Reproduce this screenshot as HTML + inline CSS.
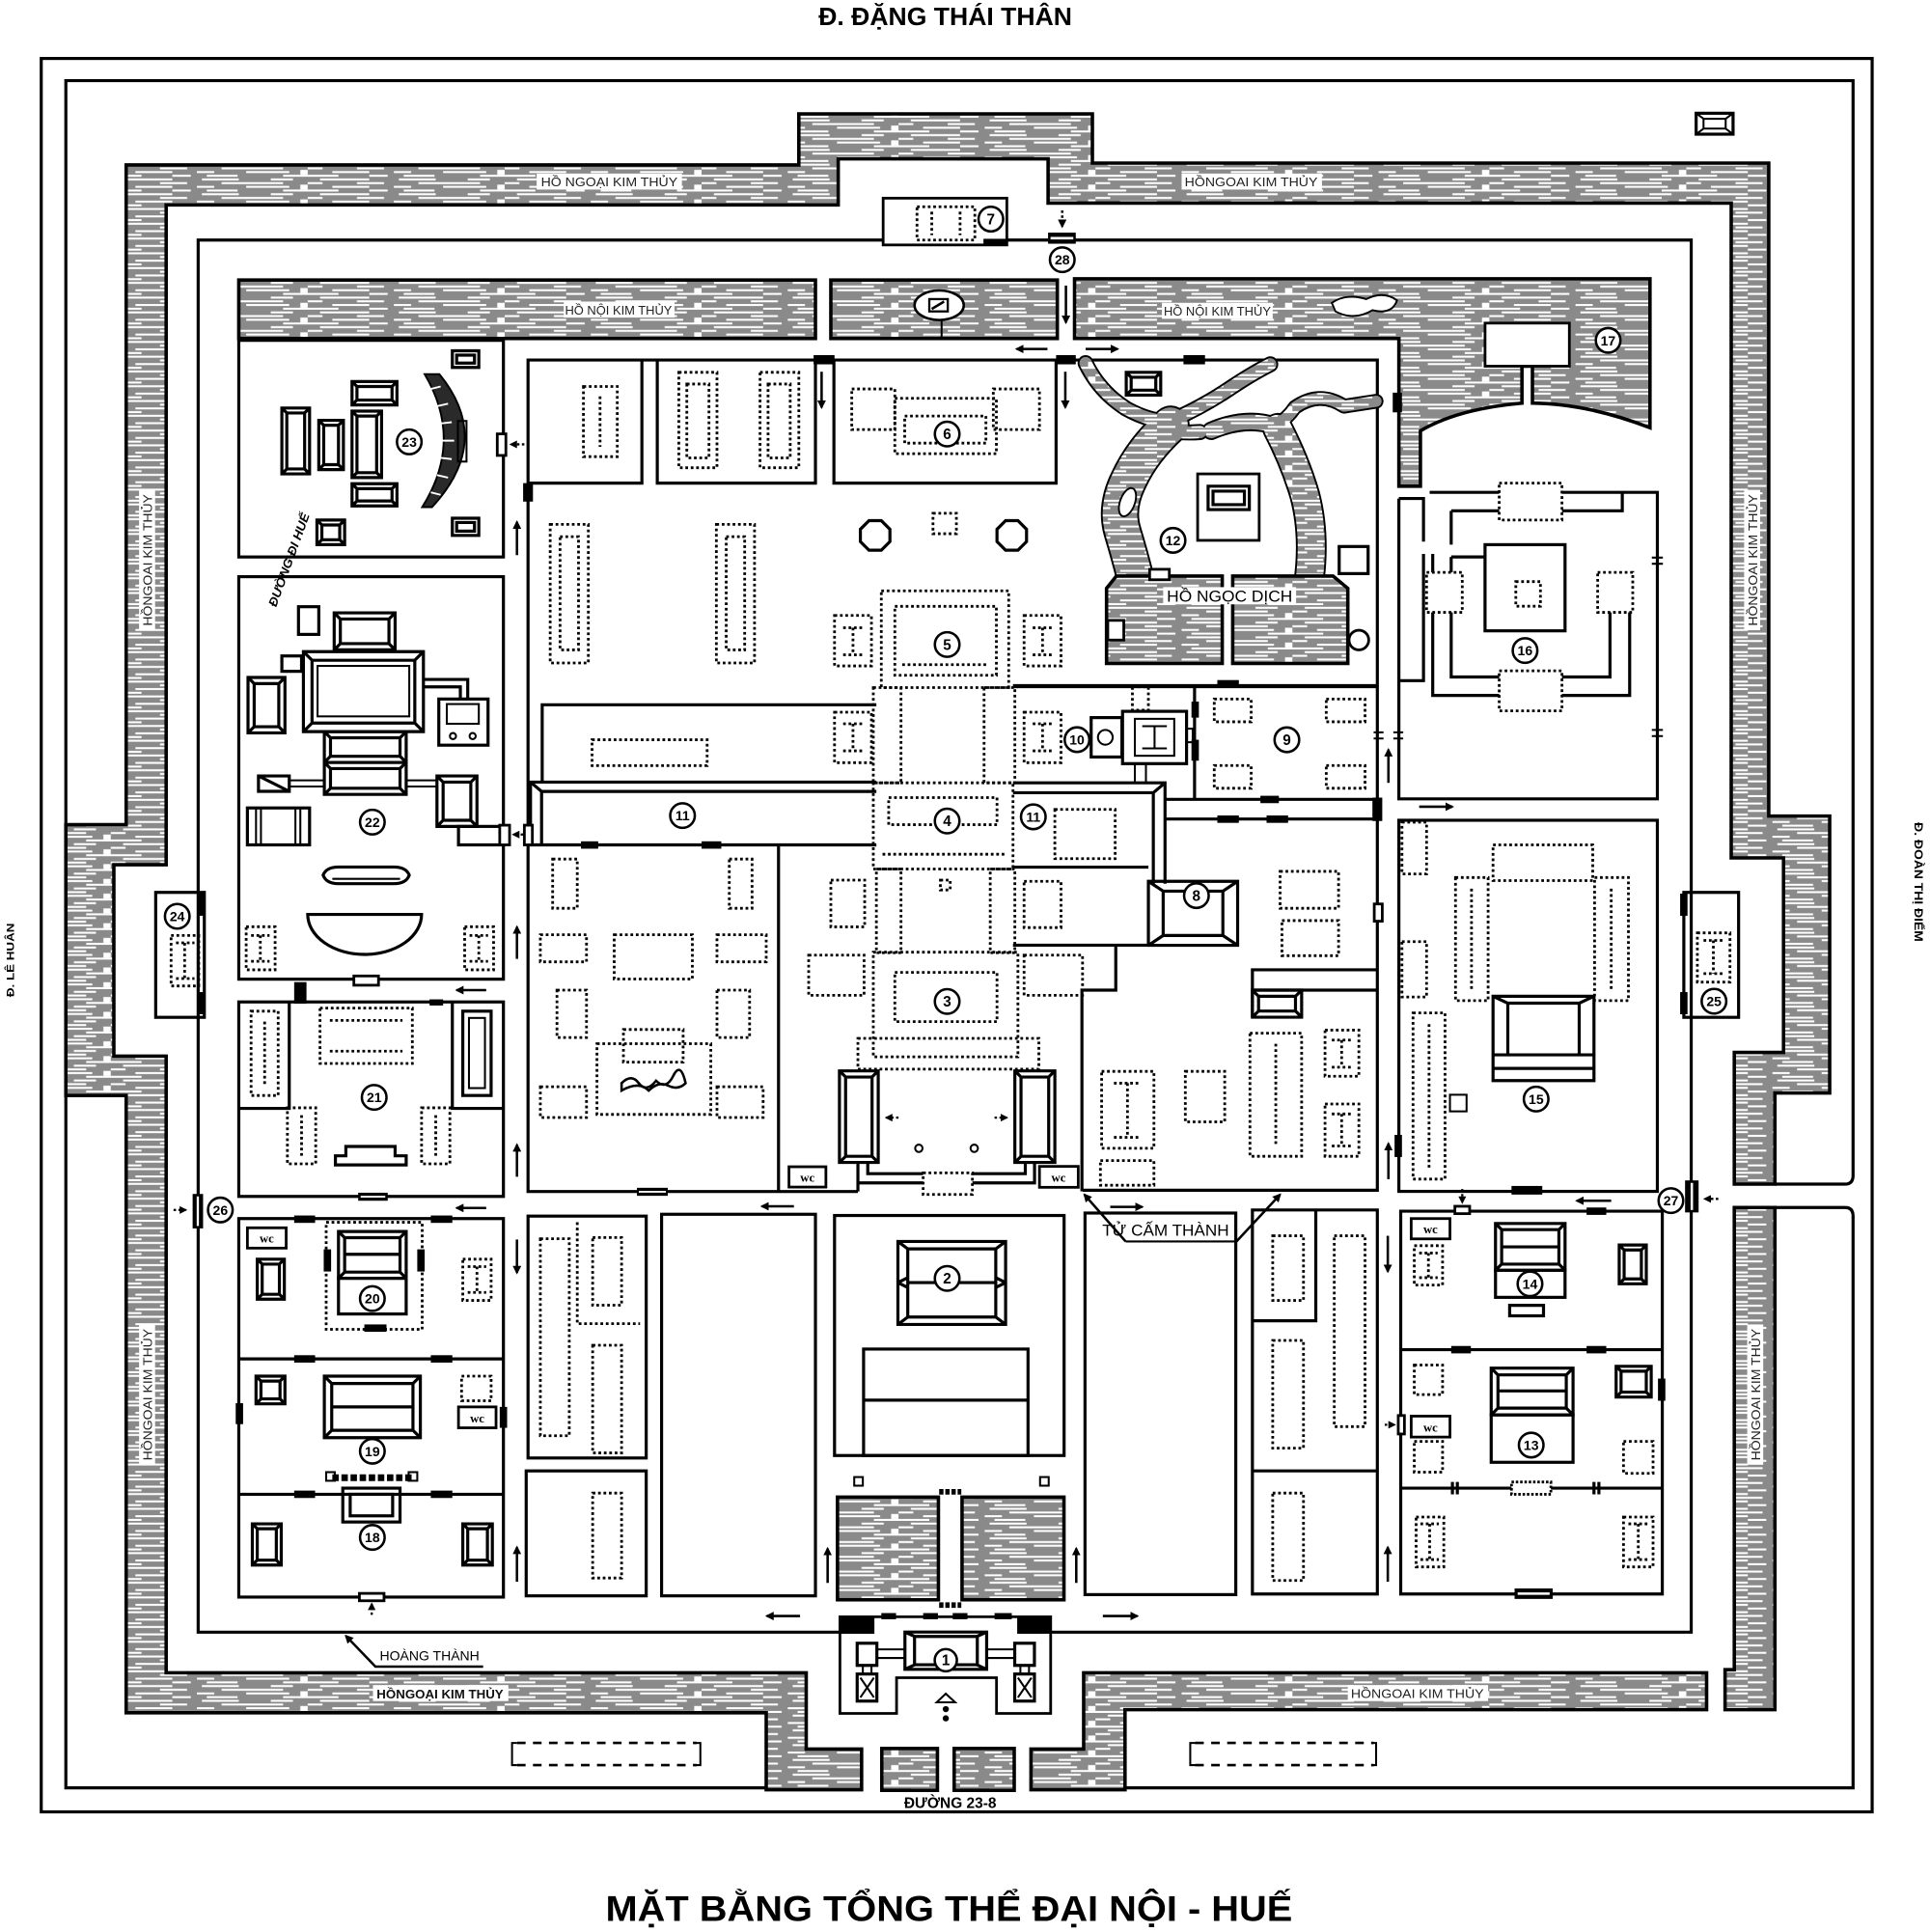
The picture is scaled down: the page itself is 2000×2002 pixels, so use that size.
<!DOCTYPE html>
<html><head><meta charset="utf-8"><style>
html,body{margin:0;padding:0;background:#fff}
svg{display:block}
.s{fill:none;stroke:#000;stroke-width:2.5}
.s2{fill:none;stroke:#000;stroke-width:1.6}
.d{fill:none;stroke:#000;stroke-width:2.2;stroke-dasharray:2.2 2.2}
.ww{fill:#fff;stroke:#000;stroke-width:2.2}
.wt{fill:url(#wt);stroke:#000;stroke-width:2.8}
.a{fill:none;stroke:#000;stroke-width:2;marker-end:url(#ah)}
.c{fill:#fff;stroke:#000;stroke-width:2}
.n{font-family:"Liberation Sans",sans-serif;font-weight:bold;font-size:12px;text-anchor:middle}
.n2{font-family:"Liberation Sans",sans-serif;font-weight:bold;font-size:11px;text-anchor:middle}
.l{font-family:"Liberation Sans",sans-serif;font-size:10px;fill:#222;text-anchor:middle}
.wc{font-family:"Liberation Serif",serif;font-weight:bold;font-size:10px;text-anchor:middle}
</style></head><body>
<svg xmlns="http://www.w3.org/2000/svg" width="2000" height="2002" viewBox="0 0 1568 1569.6" preserveAspectRatio="none">
<defs>
<pattern id="wt" width="160" height="12" patternUnits="userSpaceOnUse">
<rect width="160" height="12" fill="#8a8a8a"/>
<g fill="#fff">
<rect x="4" y="1" width="30" height="1.6"/><rect x="60" y="1" width="18" height="1.6"/><rect x="100" y="1" width="40" height="1.6"/>
<rect x="20" y="4" width="50" height="1.6"/><rect x="90" y="4" width="12" height="1.6"/><rect x="130" y="4" width="22" height="1.6"/>
<rect x="0" y="7" width="14" height="1.6"/><rect x="40" y="7" width="35" height="1.6"/><rect x="110" y="7" width="30" height="1.6"/>
<rect x="8" y="10" width="25" height="1.6"/><rect x="70" y="10" width="45" height="1.6"/><rect x="140" y="10" width="15" height="1.6"/>
<rect x="84" y="6" width="6" height="4"/>
</g>
</pattern>
<marker id="ah" viewBox="0 0 10 10" refX="8" refY="5" markerWidth="3.5" markerHeight="3.5" orient="auto-start-reverse"><path d="M0 0L10 5L0 10z" fill="#000"/></marker>
</defs>
<rect width="1568" height="1570" fill="#fff"/>

<!-- street names -->
<text x="768" y="20.5" font-family="Liberation Sans, sans-serif" font-weight="bold" font-size="20" text-anchor="middle" textLength="206" lengthAdjust="spacingAndGlyphs">Đ. ĐẶNG THÁI THÂN</text>
<text transform="translate(11.5 780) rotate(-90)" font-family="Liberation Sans, sans-serif" font-weight="bold" font-size="9" text-anchor="middle" textLength="60" lengthAdjust="spacingAndGlyphs">Đ. LÊ HUÂN</text>
<text transform="translate(1555.5 716.6) rotate(90)" font-family="Liberation Sans, sans-serif" font-weight="bold" font-size="9.5" text-anchor="middle" textLength="97" lengthAdjust="spacingAndGlyphs">Đ. ĐOÀN THỊ ĐIỂM</text>
<text x="772" y="1469" font-family="Liberation Sans, sans-serif" font-weight="bold" font-size="12" text-anchor="middle" textLength="75" lengthAdjust="spacingAndGlyphs">ĐƯỜNG  23-8</text>
<text x="771" y="1560.5" font-family="Liberation Sans, sans-serif" font-weight="bold" font-size="29" text-anchor="middle" textLength="558" lengthAdjust="spacingAndGlyphs">MẶT BẰNG TỔNG THỂ ĐẠI NỘI - HUẾ</text>

<!-- frames -->
<rect class="s" x="33.5" y="47.5" width="1487.5" height="1424.5"/>
<path class="s" d="M622.5 1452.5H53.5V65.5H1505.5V955Q1505.5 962 1499 962H1442M1442 981H1499Q1505.5 981 1505.5 988V1452.5H914"/>

<!-- outer moat -->
<path class="wt" stroke-width="3" d="M102.5 1391.5V890H53.5V670H102.5V134H649V92.5H887.5V132.5H1437V663H1486.5V888H1442V962H1409V855H1449V697H1406.5V165H851.5V129H681V166.5H135V702.5H92.5V858H135V1359H655V1421H700V1454H622.5V1391.5Z"/>
<path class="wt" stroke-width="3" d="M1409 981H1442V1389H1401.5V1356.5H1409Z"/>
<path class="wt" stroke-width="3" d="M1386.5 1359V1389H914V1454H837.6V1421H880.4V1359Z"/>
<rect class="wt" stroke-width="3" x="716.4" y="1420.5" width="45.2" height="34"/>
<rect class="wt" stroke-width="3" x="775.2" y="1420.5" width="48.8" height="34"/>

<rect x="436" y="141" width="118" height="13" fill="#fff"/><text class="l" x="495" y="151.5" textLength="111" lengthAdjust="spacingAndGlyphs">HỒ NGOẠI KIM THỦY</text>
<rect x="960" y="141" width="114" height="13" fill="#fff"/><text class="l" x="1016.5" y="151.5" textLength="108" lengthAdjust="spacingAndGlyphs">HỒNGOAI KIM THỦY</text>
<g transform="translate(120 455) rotate(-90)"><rect x="-57" y="-7" width="114" height="13" fill="#fff"/><text class="l" x="0" y="3.5" textLength="107" lengthAdjust="spacingAndGlyphs">HỒNGOAI KIM THỦY</text></g>
<g transform="translate(1424 455) rotate(-90)"><rect x="-57" y="-7" width="114" height="13" fill="#fff"/><text class="l" x="0" y="3.5" textLength="107" lengthAdjust="spacingAndGlyphs">HỒNGOAI KIM THỦY</text></g>
<g transform="translate(120 1133) rotate(-90)"><rect x="-57" y="-7" width="114" height="13" fill="#fff"/><text class="l" x="0" y="3.5" textLength="107" lengthAdjust="spacingAndGlyphs">HỒNGOAI KIM THỦY</text></g>
<g transform="translate(1426.5 1133) rotate(-90)"><rect x="-57" y="-7" width="114" height="13" fill="#fff"/><text class="l" x="0" y="3.5" textLength="107" lengthAdjust="spacingAndGlyphs">HỒNGOAI KIM THỦY</text></g>
<rect x="303" y="1369" width="110" height="13" fill="#fff"/><text x="357.5" y="1380" font-family="Liberation Sans, sans-serif" font-weight="bold" font-size="10" text-anchor="middle" fill="#111" textLength="103" lengthAdjust="spacingAndGlyphs">HỒNGOẠI KIM THỦY</text>
<rect x="1095" y="1369" width="114" height="13" fill="#fff"/><text class="l" x="1151.5" y="1379.5" textLength="108" lengthAdjust="spacingAndGlyphs">HỒNGOAI KIM THỦY</text>

<!-- top right icon -->
<rect class="s" x="1378" y="92" width="30" height="17"/>
<path class="s2" d="M1384 96.5h18v8h-18z M1378 92l6 4.5M1408 92l-6 4.5M1378 109l6-4.5M1408 109l-6-4.5"/>

<!-- Hoang Thanh wall -->
<path class="s" d="M717.5 195H161V1326H682.4M818 195H1374V1326H853.6"/>

<!-- building 7 -->
<rect class="ww" x="717.5" y="161" width="100.5" height="38"/>
<rect class="d" x="745" y="168" width="47" height="27"/>
<path class="d" d="M757 172v19M780 172v19"/>
<rect x="799" y="194" width="19" height="5" fill="#000"/>
<!-- gate 28 -->
<rect x="851.5" y="189" width="22.5" height="9" fill="#000"/>
<line x1="853.5" y1="193.5" x2="872" y2="193.5" stroke="#fff" stroke-width="2"/>
<path d="M863 171V184" stroke="#000" stroke-width="2" stroke-dasharray="2 2" marker-end="url(#ah)"/>

<!-- inner moat -->
<rect class="wt" x="194" y="227.5" width="468.5" height="47.5"/>
<rect class="wt" x="675" y="227.5" width="184" height="47.5"/>
<path class="wt" d="M873 226.5H1340.5V347.5Q1290 328 1245 327.5V297.5H1236.5V327.5Q1185 332 1154 350V395H1136.5V275H873Z"/>
<rect class="ww" stroke-width="2.5" x="1206.5" y="262.5" width="68.5" height="35"/>
<path d="M1082 246Q1094 238 1110 243Q1124 236 1135 244Q1131 256 1115 252Q1100 261 1085 253Z" fill="#fff" stroke="#000" stroke-width="1.5"/>
<rect x="458" y="245" width="90" height="13" fill="#fff"/><text class="l" x="502.5" y="255.5" textLength="87" lengthAdjust="spacingAndGlyphs">HỒ NỘI KIM THỦY</text>
<rect x="944" y="246" width="90" height="13" fill="#fff"/><text class="l" x="989" y="256.5" textLength="87" lengthAdjust="spacingAndGlyphs">HỒ NỘI KIM THỦY</text>
<ellipse cx="763" cy="248" rx="20" ry="12" fill="#fff" stroke="#000" stroke-width="2"/>
<rect x="755" y="243" width="15" height="10" fill="#fff" stroke="#000" stroke-width="1.8"/>
<path d="M757 251l10-6" stroke="#000" stroke-width="2"/>
<path class="s2" d="M765 260V275"/>
<path class="a" d="M866 232V262"/>
<rect x="1131.5" y="319" width="7.5" height="16" fill="#000"/>

<!-- Tu Cam Thanh wall -->
<path class="s" d="M697 968H429V292.5H1119V967H879.5"/>
<rect x="661" y="288.5" width="17" height="7.5" fill="#000"/>
<rect x="858" y="288.5" width="16" height="7.5" fill="#000"/>
<rect x="961.5" y="288.5" width="17.5" height="7.5" fill="#000"/>
<rect x="425" y="392.5" width="8" height="15" fill="#000"/>
<path class="a" d="M851 283.5H826"/>
<path class="a" d="M882 283.5H908"/>
<path class="a" d="M667.5 302V331"/>
<path class="a" d="M865.5 302V331"/>

<!-- top compartments -->
<path class="s" d="M429 392.5H521.5V292.5M534 292.5V392.5H662.5V292.5M677.5 292.5V392.5H858V292.5"/>
<rect class="d" x="474" y="314" width="27.5" height="57"/>
<path class="d" d="M487.5 322V363"/>
<rect class="d" x="551.5" y="302.5" width="31" height="77.5"/>
<rect class="d" x="558" y="312" width="18" height="60"/>
<rect class="d" x="617.5" y="302.5" width="31.5" height="77.5"/>
<rect class="d" x="624" y="312" width="18" height="60"/>
<rect class="d" x="692" y="316" width="35" height="33"/>
<rect class="d" x="807" y="316" width="37.5" height="33"/>
<rect class="d" x="727" y="323.6" width="82.5" height="45"/>
<rect class="d" x="735" y="338" width="66" height="22"/>

<!-- main court -->
<rect class="d" x="447" y="426" width="31" height="112.6"/>
<rect class="d" x="455" y="436" width="15" height="92"/>
<rect class="d" x="582" y="426" width="31" height="112.6"/>
<rect class="d" x="590" y="436" width="15" height="92"/>
<polygon class="s" points="706,423 716,423 723,430 723,440 716,447 706,447 699,440 699,430"/>
<polygon class="s" points="817,423 827,423 834,430 834,440 827,447 817,447 810,440 810,430"/>
<rect class="d" x="758" y="417" width="19" height="16.6"/>
<rect class="d" x="716" y="480" width="103.5" height="78.6"/>
<rect class="d" x="727" y="492.6" width="82.5" height="56"/>
<path class="d" d="M733 540H803"/>
<rect class="d" x="678" y="500" width="30" height="41"/>
<path class="d" d="M685 510h16M693 510v22M685 532h16"/>
<rect class="d" x="832" y="500" width="30" height="41"/>
<path class="d" d="M839 510h16M847 510v22M839 532h16"/>
<rect class="d" x="678" y="578.6" width="30" height="41"/>
<path class="d" d="M685 588h16M693 588v22M685 610h16"/>
<rect class="d" x="832" y="578.6" width="30" height="41"/>
<path class="d" d="M839 588h16M847 588v22M839 610h16"/>
<rect class="d" x="709.5" y="558.6" width="22.5" height="77.4"/>
<rect class="d" x="799.5" y="558.6" width="25" height="77.4"/>

<path class="s" d="M440.5 636V572.6H712"/>
<rect class="d" x="481" y="601" width="93.5" height="21"/>

<!-- building 11 -->
<path class="s" d="M431 686V635.4H712M440 686V643H712M431 635.4L440 643M429 686.4H712"/>
<rect x="472" y="683.5" width="14" height="6" fill="#000"/>
<rect x="570" y="683.5" width="16" height="6" fill="#000"/>
<rect class="d" x="709.5" y="636" width="113.5" height="70"/>
<rect class="d" x="722" y="648" width="88" height="22"/>
<path class="d" d="M717 694H817"/>
<path class="s" d="M823 636H946.5V718M823 644H937V718M937 644L946.5 636M823 704.5H933"/>
<rect class="d" x="857" y="657.6" width="49" height="40"/>
<path class="s" d="M823 557.9H1119"/>

<!-- area 9 -->
<path class="s" d="M970.5 557.9V649.4"/>
<rect x="968" y="570" width="6" height="13" fill="#000"/>
<rect x="968" y="601" width="6" height="17" fill="#000"/>
<rect class="d" x="986.5" y="567.9" width="30" height="18.5"/>
<rect class="d" x="1077.5" y="567.9" width="31.5" height="18.5"/>
<rect class="d" x="986.5" y="621.9" width="30" height="18.5"/>
<rect class="d" x="1077.5" y="621.9" width="31.5" height="18.5"/>
<path class="s" d="M946.5 649.4H1119M946.5 665.4H1119"/>
<rect x="1024" y="646.5" width="15" height="6" fill="#000"/>
<rect x="989" y="662.5" width="17.5" height="6" fill="#000"/>
<rect x="1029" y="662.5" width="17.5" height="6" fill="#000"/>
<rect x="1115" y="648" width="8" height="19" fill="#000"/>

<!-- building 10 -->
<rect class="s" x="886.5" y="583" width="25" height="32"/>
<circle cx="898" cy="599" r="6" class="s2"/>
<rect class="s" x="912" y="577.9" width="52" height="42.5"/>
<rect class="s2" x="922" y="584" width="32" height="30"/>
<path class="s2" d="M928 590h20M938 590v18M928 608h20"/>
<rect class="s2" x="964" y="592" width="5" height="11"/>
<rect class="d" x="920" y="558" width="13" height="19"/>
<path class="s2" d="M922 620V636M931 620V636"/>

<!-- building 8 -->
<path class="s" d="M933 716h72.5v52h-72.5z M945 724h48.5v36h-48.5z M933 716l12 8M1005.5 716l-12 8M933 768l12-8M1005.5 768l-12-8"/>
<path class="s" d="M823 767.9H933M906.5 767.9V804.4H879V967.9"/>

<!-- east lower region in TCT -->
<path class="s" d="M1017.5 826.4V787.9H1119M1017.5 804.4H1119"/>
<path class="s" d="M1017.5 804.4h40v22h-40z M1022.5 809.4h30v12h-30z M1017.5 804.4l5 5M1057.5 804.4l-5 5M1017.5 826.4l5-5M1057.5 826.4l-5-5"/>
<rect class="d" x="1040" y="707.9" width="47.5" height="30"/>
<rect class="d" x="1041.5" y="747.9" width="46" height="28.5"/>
<rect class="d" x="895" y="870.4" width="42.5" height="62.5"/>
<path class="d" d="M905 880h22M916 880v44M905 924h22"/>
<rect class="d" x="963" y="870.4" width="32" height="41"/>
<rect class="d" x="1015.5" y="839.4" width="42" height="100"/>
<path class="d" d="M1036.5 848v82"/>
<rect class="d" x="1076.5" y="836.9" width="27.5" height="37.5"/>
<path class="d" d="M1082 845h16M1090 845v22M1082 867h16"/>
<rect class="d" x="1076.5" y="896.9" width="27.5" height="42.5"/>
<path class="d" d="M1082 905h16M1090 905v26M1082 931h16"/>
<rect class="d" x="894" y="942.9" width="43.5" height="20"/>
<rect class="ww" stroke-width="1.5" x="1116.5" y="734.4" width="6.5" height="14"/>

<!-- lower left court of TCT -->
<path class="s" d="M632.5 686V968"/>
<rect class="d" x="449" y="697.9" width="20" height="40"/>
<rect class="d" x="592.5" y="697.9" width="18.5" height="40"/>
<rect class="d" x="439" y="759.4" width="37.5" height="22"/>
<rect class="d" x="499" y="759.4" width="63.5" height="36"/>
<rect class="d" x="582.5" y="759.4" width="40" height="22"/>
<rect class="d" x="452.5" y="804.4" width="24" height="38.5"/>
<rect class="d" x="582.5" y="804.4" width="26.5" height="38.5"/>
<rect class="d" x="485" y="847.9" width="92.5" height="57.5"/>
<rect class="d" x="506.5" y="836.4" width="48.5" height="26.5"/>
<path d="M505 880q8-8 14 0t14 -2q8 8 14-4t10 6q-6 6-14 2t-16 4q-8-8-22 0z" fill="none" stroke="#000" stroke-width="2"/>
<rect class="d" x="439" y="882.9" width="37.5" height="25"/>
<rect class="d" x="582.5" y="882.9" width="37.5" height="25"/>
<rect x="517.5" y="965" width="25" height="6.5" fill="#000"/>
<line x1="519" y1="968.2" x2="541" y2="968.2" stroke="#fff" stroke-width="1.5"/>
<rect class="ww" x="641" y="947.9" width="30" height="16.5"/><text class="wc" x="656" y="960">wc</text>

<!-- central lower court -->
<rect class="d" x="675" y="715" width="27.5" height="38"/>
<rect class="d" x="832" y="716" width="30" height="37.6"/>
<rect class="d" x="764" y="715" width="8" height="8"/>
<rect class="d" x="712" y="706" width="20" height="68"/>
<rect class="d" x="804.5" y="706" width="20" height="68"/>
<rect class="d" x="709.5" y="773.6" width="117.5" height="85"/>
<rect class="d" x="727" y="790" width="83" height="40"/>
<rect class="d" x="657" y="776" width="45" height="32.6"/>
<rect class="d" x="832" y="776" width="47.5" height="32.6"/>
<rect class="d" x="697" y="843.6" width="147" height="25"/>
<path class="s" d="M682 870h31.5v74.4h-31.5z M687 875h21.5v64.4h-21.5z M682 870l5 5M713.5 870l-5 5M682 944.4l5-5M713.5 944.4l-5-5"/>
<path class="s" d="M824.5 870h32.5v74.4h-32.5z M829.5 875h22.5v64.4h-22.5z M824.5 870l5 5M857 870l-5 5M824.5 944.4l5-5M857 944.4l-5-5"/>
<path class="s" d="M697 944.4V961H750M705 944.4V953.5H750M840.5 944.4V961H790M833 944.4V953.5H790M697 961L697 968"/>
<rect class="d" x="750" y="952.9" width="40" height="17.5"/>
<circle cx="746.5" cy="932.9" r="3" class="s2"/>
<circle cx="791.5" cy="932.9" r="3" class="s2"/>
<path d="M730 908H720" stroke="#000" stroke-width="1.8" stroke-dasharray="2 2" marker-end="url(#ah)"/>
<path d="M808 908H818" stroke="#000" stroke-width="1.8" stroke-dasharray="2 2" marker-end="url(#ah)"/>
<rect class="ww" x="844.5" y="947.6" width="31.5" height="17"/><text class="wc" x="860" y="960">wc</text>

<!-- garden 12 -->
<g fill="none" stroke-linecap="round" stroke-linejoin="round">
<path d="M882 295Q893 318 915 332Q935 343 951 342Q978 330 1000 315Q1018 303 1032 296" stroke="#000" stroke-width="13"/>
<path d="M948 350Q962 352 975 351" stroke="#000" stroke-width="13"/>
<path d="M951 345Q928 366 917 390Q906 412 912 432Q918 452 922 468" stroke="#000" stroke-width="31"/>
<path d="M984 350Q1012 338 1036 346" stroke="#000" stroke-width="15"/>
<path d="M1036 346Q1046 340 1052 331Q1072 317 1092 330Q1105 328 1118 326" stroke="#000" stroke-width="12"/>
<path d="M1038 348Q1052 375 1060 402Q1068 432 1064 468" stroke="#000" stroke-width="25"/>
<path d="M882 295Q893 318 915 332Q935 343 951 342Q978 330 1000 315Q1018 303 1032 296" stroke="url(#wt)" stroke-width="10"/>
<path d="M948 350Q962 352 975 351" stroke="url(#wt)" stroke-width="10"/>
<path d="M951 345Q928 366 917 390Q906 412 912 432Q918 452 922 468" stroke="url(#wt)" stroke-width="28"/>
<path d="M984 350Q1012 338 1036 346" stroke="url(#wt)" stroke-width="12"/>
<path d="M1036 346Q1046 340 1052 331Q1072 317 1092 330Q1105 328 1118 326" stroke="url(#wt)" stroke-width="9"/>
<path d="M1038 348Q1052 375 1060 402Q1068 432 1064 468" stroke="url(#wt)" stroke-width="22"/>
</g>
<ellipse cx="916" cy="408" rx="6" ry="12" transform="rotate(20 916 408)" fill="#fff" stroke="#000" stroke-width="1.5"/>
<path class="wt" d="M899 539V478L907 468H993V539Z"/>
<path class="wt" d="M1001.5 539V468H1083L1095 478V539Z"/>
<rect class="ww" x="900" y="504" width="13" height="16"/>
<rect class="ww" x="934" y="462.5" width="16" height="8.5"/>
<circle class="ww" cx="1104" cy="520" r="8"/>
<rect class="s" x="1088" y="444" width="23.5" height="22"/>
<rect class="ww" stroke-width="2.5" x="973" y="385" width="50" height="54"/>
<path class="s" d="M981.5 395h33.5v19h-33.5z M985.5 399h25.5v11h-25.5z"/>
<path class="s" d="M915 302.5h28v18.5h-28z M919 306.5h20v10.5h-20z M915 302.5l4 4M943 302.5l-4 4M915 321l4-4M943 321l-4-4"/>
<rect x="945" y="477" width="108" height="14" fill="#fff"/>
<text x="999" y="489" font-family="Liberation Sans, sans-serif" font-size="13" text-anchor="middle" textLength="102" lengthAdjust="spacingAndGlyphs">HỒ NGỌC DỊCH</text>
<path class="s" d="M1119 557H823"/>
<rect x="989" y="552.5" width="17.5" height="6.5" fill="#000"/>

<!-- south area -->
<rect class="s" x="429" y="988" width="96" height="196.5"/>
<rect class="s" x="427.5" y="1195" width="97.5" height="101.5"/>
<rect class="s" x="537.5" y="986.5" width="125" height="310"/>
<rect class="s" x="678" y="987.5" width="186.5" height="195"/>
<path class="s" d="M729.5 1008.6h87.5v67.4h-87.5z M737.5 1014.6h71.5v55.4h-71.5z M729.5 1008.6l8 6M817 1008.6l-8 6M729.5 1076l8-6M817 1076l-8-6M737.5 1042h71.5M729.5 1042l8-4M729.5 1042l8 4M817 1042l-8-4M817 1042l-8 4"/>
<rect class="s" x="701.6" y="1096" width="133.6" height="86.5"/>
<path class="s" d="M701.6 1137.5H835.2"/>
<rect class="wt" x="680.4" y="1216.3" width="82" height="83.4"/>
<rect class="wt" x="781.6" y="1216.3" width="82.8" height="83.4"/>
<path d="M763 1212H781M763 1304H781" stroke="#000" stroke-width="4.5" stroke-dasharray="3.5 1.5"/>
<rect class="s2" x="694" y="1200" width="7" height="7"/>
<rect class="s2" x="845" y="1200" width="7" height="7"/>
<rect class="s" x="881.5" y="985.5" width="122.5" height="310"/>
<path class="s" d="M1017.5 983H1119V1295H1017.5ZM1069 983V1073H1017.5M1017.5 1195H1119"/>
<path class="s" d="M1138 984H1350.5V1295H1138ZM1138 1096.5H1350.5M1138 1209H1350.5"/>
<rect class="d" x="439" y="1006.4" width="23.5" height="160"/>
<rect class="d" x="481.5" y="1005.4" width="23.5" height="55"/>
<rect class="d" x="481.5" y="1092.9" width="23.5" height="87.5"/>
<path class="d" d="M469 993V1075.4H520"/>
<rect class="d" x="481.5" y="1213" width="23.5" height="69"/>
<rect class="d" x="1034" y="1004" width="25" height="52.5"/>
<rect class="d" x="1084" y="1004" width="25" height="155"/>
<rect class="d" x="1034" y="1089" width="25" height="87.5"/>
<rect class="d" x="1034" y="1213" width="25" height="71"/>

<!-- Tu Cam Thanh label -->
<path class="s2" stroke-width="2" d="M914.5 1008.6H1004.5"/>
<path d="M914.5 1008.6L881 970.5" stroke="#000" stroke-width="2" fill="none" marker-end="url(#ah)"/>
<path d="M1004.5 1008.6L1040 970.5" stroke="#000" stroke-width="2" fill="none" marker-end="url(#ah)"/>
<text x="947" y="1004" font-family="Liberation Sans, sans-serif" font-size="13" text-anchor="middle" textLength="103" lengthAdjust="spacingAndGlyphs">TỬ CẤM THÀNH</text>

<!-- Hoang Thanh label -->
<text x="349" y="1349" font-family="Liberation Sans, sans-serif" font-size="11" text-anchor="middle" textLength="81" lengthAdjust="spacingAndGlyphs">HOÀNG THÀNH</text>
<path d="M392.5 1354H305L281 1329" stroke="#000" stroke-width="2" fill="none" marker-end="url(#ah)"/>

<!-- gate 1 -->
<path class="ww" stroke-width="2.5" d="M682.4 1392V1313.5H853.6V1392H809.6V1363H728.4V1392Z"/>
<rect x="682.4" y="1313.5" width="28" height="13.8" fill="#000"/>
<rect x="826.4" y="1313.5" width="27.2" height="13.8" fill="#000"/>
<rect x="716" y="1310.5" width="12" height="5" fill="#000"/>
<rect x="750" y="1310.5" width="12" height="5" fill="#000"/>
<rect x="774" y="1310.5" width="12" height="5" fill="#000"/>
<rect x="808" y="1310.5" width="14" height="5" fill="#000"/>
<path class="s" d="M735.2 1325.9h66.4v30.3h-66.4z M743 1329.5h51v23h-51z M735.2 1325.9l8 3.6M801.6 1325.9l-8 3.6M735.2 1356.2l8-3.7M801.6 1356.2l-8-3.7"/>
<rect class="s" x="696.4" y="1335" width="16" height="18"/>
<rect class="s" x="696.4" y="1360" width="16" height="22"/>
<rect class="s" x="824.4" y="1335" width="16" height="18"/>
<rect class="s" x="824.4" y="1360" width="16" height="22"/>
<path class="s2" d="M712.4 1340H735M712.4 1347H735M801.6 1340H824.4M801.6 1347H824.4M701 1353V1360M708 1353V1360M829 1353V1360M836 1353V1360M699 1363l11 16M710 1363l-11 16M827 1363l11 16M838 1363l-11 16"/>
<path class="s2" d="M761 1383L768.4 1376L776 1383Z"/>
<circle cx="768.4" cy="1388.5" r="2.5"/>
<circle cx="768.4" cy="1396" r="2.5"/>

<!-- bottom dashed rects -->
<path d="M420 1416H416V1434H420M565 1416H569V1434H565" class="s2" stroke-width="2"/>
<path d="M420 1416H566M420 1434H566" stroke="#000" stroke-width="2" stroke-dasharray="7 6"/>
<path d="M971 1416H967V1434H971M1114 1416H1118V1434H1114" class="s2" stroke-width="2"/>
<path d="M971 1416H1116M971 1434H1116" stroke="#000" stroke-width="2" stroke-dasharray="7 6"/>

<!-- left column boxes -->
<rect class="s" x="194" y="276.5" width="215" height="176"/>
<rect class="s" x="194" y="468.5" width="215" height="327"/>
<rect class="s" x="194" y="814" width="215" height="158"/>
<rect class="s" x="194" y="990" width="215" height="307.5"/>

<!-- box 23 -->
<path class="s" d="M229 331.5h22.5v53.5h-22.5z M233 335.5h14.5v45.5h-14.5z M229 331.5l4 4M251.5 331.5l-4 4M229 385l4-4M251.5 385l-4-4"/>
<path class="s" d="M259 341.5h20v40h-20z M263 345.5h12v32h-12z M259 341.5l4 4M279 341.5l-4 4M259 381.5l4-4M279 381.5l-4-4"/>
<path class="s" d="M286 334h24v54h-24z M290 338h16v46h-16z M286 334l4 4M310 334l-4 4M286 388l4-4M310 388l-4-4"/>
<path class="s" d="M286 310h36.5v19h-36.5z M290 314h28.5v11h-28.5z M286 310l4 4M322.5 310l-4 4M286 329l4-4M322.5 329l-4-4"/>
<path class="s" d="M286 393h36.5v18h-36.5z M290 397h28.5v10h-28.5z M286 393l4 4M322.5 393l-4 4M286 411l4-4M322.5 411l-4-4"/>
<path class="s" d="M367.5 285h21.5v13.5h-21.5z M371 288.5h14.5v6.5h-14.5z"/>
<path class="s" d="M367.5 421h21.5v14h-21.5z M371 424.5h14.5v7h-14.5z"/>
<path class="s" d="M257.5 422.5h22.5v20h-22.5z M261.5 426.5h14.5v12h-14.5z M257.5 422.5l4 4M280 422.5l-4 4M257.5 442.5l4-4M280 442.5l-4-4"/>
<path d="M345 304Q377 358 343 412L351 412Q401 358 357 304Z" fill="#2a2a2a" stroke="#000" stroke-width="1.5"/>
<path d="M350 316l8-2M355 330l9-2M358 344l9-1M359 358l10 0M358 372l9 1M355 386l9 2M350 400l8 2" stroke="#fff" stroke-width="1.5"/>
<rect class="s2" x="372" y="342" width="7" height="33"/>
<rect class="ww" stroke-width="1.5" x="404" y="352.5" width="7" height="17.5"/>
<path d="M426 361H415" stroke="#000" stroke-width="1.8" stroke-dasharray="2 2" marker-end="url(#ah)"/>
<text transform="translate(238 456) rotate(-70)" font-family="Liberation Sans, sans-serif" font-size="10" font-weight="bold" font-style="italic" text-anchor="middle" textLength="80" lengthAdjust="spacingAndGlyphs">ĐƯỜNG ĐI HUẾ</text>

<!-- box 22 -->
<rect class="s" x="242.5" y="492.9" width="16.5" height="22.5"/>
<path class="s" d="M271.5 497.9h49.5v30h-49.5z M276.5 502.9h39.5v20h-39.5z M271.5 497.9l5 5M321 497.9l-5 5M271.5 527.9l5-5M321 527.9l-5-5"/>
<path class="s" d="M246.5 529.4h97.5v65h-97.5z M253.5 536.4h83.5v51h-83.5z M246.5 529.4l7 7M344 529.4l-7 7M246.5 594.4l7-7M344 594.4l-7-7"/>
<rect class="s2" x="258" y="541" width="74.5" height="41"/>
<path class="s" d="M201.5 550.4h30v45h-30z M206.5 555.4h20v35h-20z M201.5 550.4l5 5M231.5 550.4l-5 5M201.5 595.4l5-5M231.5 595.4l-5-5"/>
<rect class="s" x="229" y="532.9" width="16" height="12.5"/>
<rect class="s" x="356.5" y="567.9" width="40" height="37.5"/>
<rect class="s2" x="363" y="572" width="26" height="16"/>
<circle cx="368" cy="598" r="2.5" class="s2"/><circle cx="384" cy="598" r="2.5" class="s2"/>
<path class="s" d="M344 552H380V568M344 558H374V568"/>
<path class="s" d="M263.5 594.4h66.5v25h-66.5z M268.5 599.4h56.5v15h-56.5z M263.5 594.4l5 5M330 594.4l-5 5M263.5 619.4l5-5M330 619.4l-5-5"/>
<path class="s" d="M263.5 619.4h66.5v26h-66.5z M268.5 624.4h56.5v16h-56.5z M263.5 619.4l5 5M330 619.4l-5 5M263.5 645.4l5-5M330 645.4l-5-5"/>
<path class="s" d="M210 630.4h25v12.5h-25z M210 630.4l25 12.5"/>
<path class="s2" d="M235 634H263.5M235 639H263.5M330 634H355M330 639H355"/>
<path class="s" d="M355 630.4h32.5v41h-32.5z M360 635.4h22.5v31h-22.5z M355 630.4l5 5M387.5 630.4l-5 5M355 671.4l5-5M387.5 671.4l-5-5"/>
<rect class="s" x="372.5" y="671.4" width="35" height="15"/>
<rect class="s" x="201" y="656.4" width="50.5" height="30"/>
<path class="s2" d="M208 656.4v30M212 656.4v30M240 656.4v30M244 656.4v30"/>
<path class="s" d="M262.5 711Q265 704.4 275 704.4H320Q330 704.4 332.5 711Q330 717.9 320 717.9H275Q265 717.9 262.5 711Z"/>
<path class="s2" d="M270 714H325"/>
<path class="s" d="M250 742.9A46.25 32.5 0 0 0 342.5 742.9Z"/>
<rect class="d" x="200" y="752.9" width="23.5" height="35"/>
<path class="d" d="M204 760h15M211.5 760v21M204 781h15"/>
<rect class="d" x="377.5" y="752.9" width="23.5" height="35"/>
<path class="d" d="M381.5 760h15M389 760v21M381.5 781h15"/>
<rect class="ww" stroke-width="1.5" x="406" y="670.4" width="8" height="16"/>
<rect class="ww" stroke-width="1.5" x="426" y="670.4" width="6.5" height="16"/>
<path d="M425 678H417" stroke="#000" stroke-width="1.8" stroke-dasharray="2 2" marker-end="url(#ah)"/>

<!-- box 21 -->
<path class="s" d="M235 814V900.5H194M367.5 814V900.5H409"/>
<rect class="s" x="376" y="821.5" width="23" height="68.5"/>
<rect class="s2" x="381" y="827" width="13" height="57"/>
<rect class="d" x="260" y="819" width="75" height="45"/>
<path class="d" d="M268 829H327M268 854H327"/>
<rect class="d" x="204" y="821.5" width="22" height="68.5"/>
<path class="d" d="M215 830V882"/>
<rect class="d" x="233.5" y="900" width="23" height="45.5"/>
<path class="d" d="M245 906V940"/>
<rect class="d" x="342.5" y="900" width="23" height="45.5"/>
<path class="d" d="M354 906V940"/>
<path class="s" d="M272.5 946.4V939H281V931.4H321V939H330V946.4Z"/>
<rect x="239" y="797.9" width="10" height="17.5" fill="#000"/>
<rect class="ww" stroke-width="1.5" x="287.5" y="792.9" width="20" height="7.5"/>
<rect x="349" y="811.9" width="11" height="5" fill="#000"/>
<rect x="291" y="969" width="24" height="6.5" fill="#000"/>
<line x1="293" y1="972.2" x2="313" y2="972.2" stroke="#fff" stroke-width="1.5"/>

<!-- box 20-18 -->
<path class="s" d="M194 1104H409M194 1214H409"/>
<rect x="239" y="987.5" width="17" height="6" fill="#000"/>
<rect x="350" y="987.5" width="17.5" height="6" fill="#000"/>
<rect x="239" y="1101" width="17" height="6" fill="#000"/>
<rect x="350" y="1101" width="17.5" height="6" fill="#000"/>
<rect x="239" y="1211" width="17" height="6" fill="#000"/>
<rect x="350" y="1211" width="17.5" height="6" fill="#000"/>
<rect x="191.5" y="1140" width="6" height="17" fill="#000"/>
<rect x="406" y="1143" width="6" height="17" fill="#000"/>
<rect class="ww" x="201" y="997.5" width="31.5" height="16.5"/><text class="wc" x="216.7" y="1009.5">wc</text>
<path class="s" d="M209 1023h22v32.5h-22z M213 1027h14v24.5h-14z M209 1023l4 4M231 1023l-4 4M209 1055.5l4-4M231 1055.5l-4-4"/>
<rect class="d" x="265" y="993" width="78" height="87"/>
<path class="s" d="M275 1000.5h55v38h-55z M280 1005.5h45v28h-45z M275 1000.5l5 5M330 1000.5l-5 5M275 1038.5l5-5M330 1038.5l-5-5M280 1019h45"/>
<rect class="s" x="275" y="1038.5" width="55" height="29"/>
<rect x="263" y="1015" width="6" height="18" fill="#000"/>
<rect x="339" y="1015" width="6" height="18" fill="#000"/>
<rect x="296" y="1076" width="18" height="6" fill="#000"/>
<rect class="d" x="376" y="1023" width="23" height="33.5"/>
<path class="d" d="M380 1029h15M387.5 1029v21M380 1050h15"/>
<path class="s" d="M263.5 1118h78v50h-78z M269.5 1124h66v38h-66z M263.5 1118l6 6M341.5 1118l-6 6M263.5 1168l6-6M341.5 1168l-6-6M269.5 1143h66"/>
<path class="s" d="M208 1118h23.5v22.5h-23.5z M212 1122h15.5v14.5h-15.5z M208 1118l4 4M231.5 1118l-4 4M208 1140.5l4-4M231.5 1140.5l-4-4"/>
<rect class="d" x="375" y="1118" width="24" height="20"/>
<rect class="ww" x="372.5" y="1143" width="30.5" height="17"/><text class="wc" x="387.7" y="1155.5">wc</text>
<rect class="s2" x="265" y="1196" width="7" height="7"/>
<rect class="s2" x="332" y="1196" width="7" height="7"/>
<path d="M270 1200.5H336" stroke="#000" stroke-width="5.5" stroke-dasharray="5.2 2.2"/>
<rect class="s" x="278.5" y="1209" width="46.5" height="27.5"/>
<rect class="s" x="284.5" y="1214" width="34.5" height="17.5"/>
<path class="s" d="M205 1238h23.5v33.5h-23.5z M209 1242h15.5v25.5h-15.5z M205 1238l4 4M228.5 1238l-4 4M205 1271.5l4-4M228.5 1271.5l-4-4"/>
<path class="s" d="M376 1238h24v33.5h-24z M380 1242h16v25.5h-16z M376 1238l4 4M400 1238l-4 4M376 1271.5l4-4M400 1271.5l-4-4"/>
<rect class="ww" stroke-width="1.5" x="292" y="1294.5" width="20" height="6"/>
<path d="M302 1312V1303" stroke="#000" stroke-width="1.8" stroke-dasharray="2 2" marker-end="url(#ah)"/>

<!-- gate 24 -->
<rect class="s" x="126.5" y="725" width="39.5" height="101.5"/>
<rect x="161" y="726" width="6" height="18" fill="#000"/>
<rect x="161" y="806" width="6" height="18" fill="#000"/>
<rect class="d" x="139" y="760" width="22.5" height="41"/>
<path class="d" d="M143 766h15M150 766v29M143 795h15"/>
<!-- gate 26 -->
<rect x="156.5" y="970" width="8.5" height="28" fill="#000"/>
<line x1="160.7" y1="972" x2="160.7" y2="996" stroke="#fff" stroke-width="1.8"/>
<path d="M141 983H151" stroke="#000" stroke-width="1.8" stroke-dasharray="2 2" marker-end="url(#ah)"/>

<!-- gate 25 -->
<rect class="s" x="1368" y="725" width="44.5" height="101.5"/>
<rect x="1365" y="726" width="6" height="18" fill="#000"/>
<rect x="1365" y="806" width="6" height="18" fill="#000"/>
<rect class="d" x="1379" y="757.9" width="26.5" height="40"/>
<path class="d" d="M1384 764h16M1392 764v27M1384 791h16"/>
<!-- gate 27 -->
<rect x="1369" y="959" width="11" height="26" fill="#000"/>
<line x1="1374.5" y1="961" x2="1374.5" y2="983" stroke="#fff" stroke-width="2"/>
<path d="M1396 974H1385" stroke="#000" stroke-width="1.8" stroke-dasharray="2 2" marker-end="url(#ah)"/>

<!-- area 16 -->
<path class="s" d="M1136.5 405V649H1346.5V400H1161.5M1136.5 405H1156.5V440M1156.5 450V553H1136.5"/>
<path class="s" d="M1179 415H1318V400M1179 415V442.5M1179 452.5H1206.5M1179 452.5V550H1308V480M1164 450V565H1324V480"/>
<rect class="s" x="1206.5" y="442.5" width="65" height="70"/>
<rect class="d" x="1231.5" y="472.5" width="20" height="20"/>
<rect class="ww" style="stroke-dasharray:2.2 2.2" x="1218" y="392.5" width="51" height="30"/>
<rect class="ww" style="stroke-dasharray:2.2 2.2" x="1218" y="545" width="51" height="32.5"/>
<rect class="ww" style="stroke-dasharray:2.2 2.2" x="1159" y="465" width="29" height="32.5"/>
<rect class="ww" style="stroke-dasharray:2.2 2.2" x="1298" y="465" width="28.5" height="32.5"/>
<path class="s2" d="M1342 453h9M1342 458h9M1342 593h9M1342 598h9M1116 595h8M1116 600h8M1132 595h8M1132 600h8"/>

<!-- area 15 -->
<rect class="s" x="1136.5" y="666.4" width="210" height="301.5"/>
<rect class="d" x="1213" y="686.4" width="81" height="29"/>
<rect class="d" x="1182.5" y="712.9" width="26.5" height="100"/>
<path class="d" d="M1195.5 722V804"/>
<rect class="d" x="1295.5" y="712.9" width="27.5" height="100"/>
<path class="d" d="M1309 722V804"/>
<rect class="d" x="1148" y="822.9" width="26" height="135"/>
<path class="d" d="M1161 832V950"/>
<rect class="d" x="1139" y="668" width="20" height="42"/>
<rect class="d" x="1139" y="765" width="20" height="45"/>
<path class="s" d="M1213 809.4h82v68.5h-82z M1225 815h58v42h-58z M1213 809.4l12 5.6M1295 809.4l-12 5.6M1213 857l12 0M1295 857l-12 0M1213 868h82"/>
<rect class="s2" x="1178" y="889.4" width="13.5" height="13.5"/>
<rect x="1133" y="922" width="6" height="18" fill="#000"/>
<rect x="1228" y="963.5" width="25" height="7" fill="#000"/>

<!-- area 13/14 -->
<rect class="ww" x="1146.5" y="990" width="31.5" height="16.5"/><text class="wc" x="1162.2" y="1002">wc</text>
<rect class="d" x="1149" y="1012" width="23" height="32"/>
<path class="d" d="M1153 1018h15M1160.5 1018v20M1153 1038h15"/>
<path class="s" d="M1215 994h56.5v38h-56.5z M1220 999h46.5v28h-46.5z M1215 994l5 5M1271.5 994l-5 5M1215 1032l5-5M1271.5 1032l-5-5M1220 1013h46.5"/>
<rect class="s" x="1215" y="1032" width="56.5" height="22"/>
<rect class="s" x="1226.5" y="1060.5" width="27.5" height="8.5"/>
<path class="s" d="M1315.5 1011.5h22v31.5h-22z M1319.5 1015.5h14v23.5h-14z M1315.5 1011.5l4 4M1337.5 1011.5l-4 4M1315.5 1043l4-4M1337.5 1043l-4-4"/>
<rect x="1179" y="1093.5" width="16" height="6" fill="#000"/>
<rect x="1289" y="1093.5" width="16" height="6" fill="#000"/>
<rect class="d" x="1149" y="1109" width="23" height="24"/>
<rect class="ww" x="1146.5" y="1150.5" width="31.5" height="17"/><text class="wc" x="1162.2" y="1163">wc</text>
<rect class="d" x="1149" y="1171" width="23" height="25"/>
<path class="s" d="M1211.5 1111.5h66.5v38h-66.5z M1217 1117h55.5v27h-55.5z M1211.5 1111.5l5.5 5.5M1278 1111.5l-5.5 5.5M1211.5 1149.5l5.5-5.5M1278 1149.5l-5.5-5.5M1217 1130h55.5"/>
<rect class="s" x="1211.5" y="1149.5" width="66.5" height="38.5"/>
<path class="s" d="M1313 1110h28.5v25h-28.5z M1317 1114h20.5v17h-20.5z M1313 1110l4 4M1341.5 1110l-4 4M1313 1135l4-4M1341.5 1135l-4-4"/>
<rect class="d" x="1319" y="1171" width="24" height="26"/>
<rect x="1347" y="1120" width="6" height="18" fill="#000"/>
<rect class="ww" stroke-width="1.5" x="1136" y="1150" width="5" height="15"/>
<path d="M1125 1157.5H1133" stroke="#000" stroke-width="1.8" stroke-dasharray="2 2" marker-end="url(#ah)"/>
<rect class="ww" x="1228" y="1204" width="32" height="10" style="stroke-dasharray:2 1.5"/>
<path class="s" d="M1180 1204v10M1184 1204v10M1295 1204v10M1299 1204v10"/>
<rect class="d" x="1150.5" y="1232.5" width="22.5" height="40.5"/>
<path class="d" d="M1154 1238h15M1161.5 1238v29M1154 1267h15"/>
<rect class="d" x="1319" y="1232.5" width="24" height="40.5"/>
<path class="d" d="M1323 1238h16M1331 1238v29M1323 1267h16"/>
<rect x="1230.5" y="1290.5" width="31" height="8.5" fill="#000"/>
<line x1="1233" y1="1294.7" x2="1259" y2="1294.7" stroke="#fff" stroke-width="2"/>
<rect class="ww" stroke-width="1.5" x="1182" y="980" width="12" height="6"/>
<path d="M1188 966V977" stroke="#000" stroke-width="1.8" stroke-dasharray="2 2" marker-end="url(#ah)"/>
<rect x="1289" y="981" width="16" height="6" fill="#000"/>

<!-- road arrows -->
<path class="a" d="M420 451V424"/>
<path class="a" d="M420 779V753"/>
<path class="a" d="M420 956V930"/>
<path class="a" d="M420 1007V1034"/>
<path class="a" d="M420 1285V1257"/>
<path class="a" d="M395 804.4H371"/>
<path class="a" d="M395 981.4H371"/>
<path class="a" d="M645 980H619"/>
<path class="a" d="M650 1312.9H623"/>
<path class="a" d="M896 1312.9H924"/>
<path class="a" d="M672.4 1286V1258"/>
<path class="a" d="M874.4 1286V1258"/>
<path class="a" d="M902 980.5H928"/>
<path class="a" d="M1127.5 1004V1033"/>
<path class="a" d="M1127.5 1285V1257"/>
<path class="a" d="M1128 958V929"/>
<path class="a" d="M1128 636V609"/>
<path class="a" d="M1153 655.4H1180"/>
<path class="a" d="M1309 975.5H1281"/>

<!-- number circles -->
<circle class="c" cx="768.4" cy="1348.8" r="9"/><text class="n" x="768.4" y="1353">1</text>
<circle class="c" cx="769.5" cy="1038.6" r="10"/><text class="n" x="769.5" y="1042.9">2</text>
<circle class="c" cx="769.5" cy="813.6" r="10"/><text class="n" x="769.5" y="817.9">3</text>
<circle class="c" cx="769.5" cy="667" r="10"/><text class="n" x="769.5" y="671.3">4</text>
<circle class="c" cx="769.5" cy="523.6" r="10"/><text class="n" x="769.5" y="527.9">5</text>
<circle class="c" cx="769.5" cy="352.6" r="10"/><text class="n" x="769.5" y="356.9">6</text>
<circle class="c" cx="805" cy="178" r="10"/><text class="n" x="805" y="182.3">7</text>
<circle class="c" cx="972" cy="727.6" r="10"/><text class="n" x="972" y="731.9">8</text>
<circle class="c" cx="1045.5" cy="601" r="10"/><text class="n" x="1045.5" y="605.3">9</text>
<circle class="c" cx="875" cy="600.9" r="10"/><text class="n2" x="875" y="604.9">10</text>
<circle class="c" cx="554.5" cy="662.6" r="10"/><text class="n2" x="554.5" y="666.6">11</text>
<circle class="c" cx="839.5" cy="663.6" r="10"/><text class="n2" x="839.5" y="667.6">11</text>
<circle class="c" cx="953" cy="439" r="10"/><text class="n2" x="953" y="443">12</text>
<circle class="c" cx="1244" cy="1174" r="10"/><text class="n2" x="1244" y="1178">13</text>
<circle class="c" cx="1243" cy="1043" r="10"/><text class="n2" x="1243" y="1047">14</text>
<circle class="c" cx="1248" cy="892.9" r="10"/><text class="n2" x="1248" y="896.9">15</text>
<circle class="c" cx="1239" cy="528.5" r="10"/><text class="n2" x="1239" y="532.5">16</text>
<circle class="c" cx="1306.5" cy="276.5" r="10"/><text class="n2" x="1306.5" y="280.5">17</text>
<circle class="c" cx="302.5" cy="1249" r="10"/><text class="n2" x="302.5" y="1253">18</text>
<circle class="c" cx="302.5" cy="1179" r="10"/><text class="n2" x="302.5" y="1183">19</text>
<circle class="c" cx="302.5" cy="1055" r="10"/><text class="n2" x="302.5" y="1059">20</text>
<circle class="c" cx="304" cy="891.5" r="10"/><text class="n2" x="304" y="895.5">21</text>
<circle class="c" cx="302.5" cy="667.9" r="10"/><text class="n2" x="302.5" y="671.9">22</text>
<circle class="c" cx="332.5" cy="359" r="10"/><text class="n2" x="332.5" y="363">23</text>
<circle class="c" cx="144" cy="744.4" r="10"/><text class="n2" x="144" y="748.4">24</text>
<circle class="c" cx="1392.5" cy="813.4" r="10"/><text class="n2" x="1392.5" y="817.4">25</text>
<circle class="c" cx="179" cy="983" r="10"/><text class="n2" x="179" y="987">26</text>
<circle class="c" cx="1357.5" cy="975.4" r="10"/><text class="n2" x="1357.5" y="979.4">27</text>
<circle class="c" cx="863" cy="211" r="10"/><text class="n2" x="863" y="215">28</text>
</svg>
</body></html>
